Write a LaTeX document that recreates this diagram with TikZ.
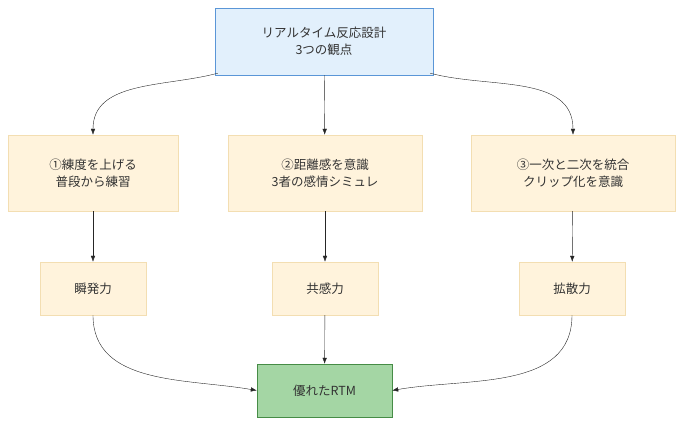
\documentclass[tikz,border=0pt]{standalone}
\usepackage{fontspec}
\setmainfont{Noto Sans CJK JP}
\usetikzlibrary{positioning, arrows.meta}
\definecolor{topfill}{RGB}{226,240,252}
\definecolor{topline}{RGB}{90,150,215}
\definecolor{boxfill}{RGB}{255,243,220}
\definecolor{boxline}{RGB}{243,222,178}
\definecolor{goalfill}{RGB}{164,214,164}
\definecolor{goalline}{RGB}{70,140,70}

\begin{document}
\begin{tikzpicture}[x=1pt, y=-1pt, font=\fontsize{12.5}{17}\selectfont,
    box/.style={draw=boxline, fill=boxfill, align=center, text=black!80},
    every edge/.style={draw, -{Latex[length=6pt]}, black!85}]
    \useasboundingbox (0,0) rectangle (689,430);

    \node[draw=topline, fill=topfill, align=center, text=black!80, minimum width=218pt, minimum height=67pt] (Top) at (324,41.5) {リアルタイム反応設計\\3つの観点};

    \node[box, minimum width=170pt, minimum height=76pt] (Step 1) at (93,173)  {①練度を上げる\\普段から練習};
    \node[box, minimum width=194pt, minimum height=76pt] (Step 2) at (325,173) {②距離感を意識\\3者の感情シミュレ};
    \node[box, minimum width=204pt, minimum height=76pt] (Step 3) at (573,173) {③一次と二次を統合\\クリップ化を意識};

    \node[box, minimum width=106pt, minimum height=53pt] (Skill 1) at (93,288.5)  {瞬発力};
    \node[box, minimum width=106pt, minimum height=53pt] (Skill 2) at (325,288.5) {共感力};
    \node[box, minimum width=106pt, minimum height=53pt] (Skill 3) at (572,288.5) {拡散力};

    \node[draw=goalline, fill=goalfill, text=black!80, minimum width=135pt, minimum height=53pt] (Goal) at (324.5,390.5) {優れたRTM};

    \path (Top.south west) ++(3,-2) coordinate (tl)
          (Top.south east) ++(-3,-2) coordinate (tr);
    \path (tl) edge[out=-165, in=90] (Step 1.north)
          (Top) edge (Step 2)
          (tr) edge[out=-15, in=90] (Step 3.north)
          (Step 1) edge (Skill 1)
          (Step 2) edge (Skill 2)
          (Step 3) edge (Skill 3)
          (Skill 1.south) edge[out=-90, in=170] (Goal.west)
          (Skill 2) edge (Goal)
          (Skill 3.south) edge[out=-90, in=10] (Goal.east);
\end{tikzpicture}
\end{document}
